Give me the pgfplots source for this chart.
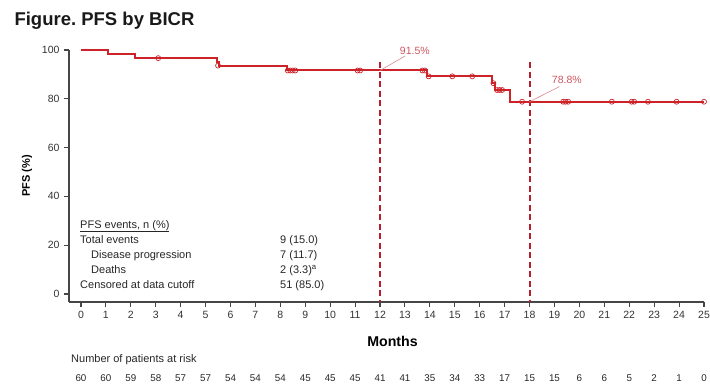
\documentclass[border=0pt]{standalone}
\usepackage{pgfplots}
\pgfplotsset{compat=1.18}
\usepackage{fontspec}
\setmainfont{Liberation Sans}
\definecolor{kmred}{RGB}{205,35,40}
\definecolor{dashred}{RGB}{185,30,45}
\definecolor{lblred}{RGB}{205,85,95}
\definecolor{axgray}{RGB}{70,70,70}
\begin{document}
\begin{tikzpicture}
\path[use as bounding box] (0pt,0pt) rectangle (710pt,-386pt);
\node[anchor=base west,font=\bfseries\fontsize{18.5}{20}\selectfont,text=black!90] at (11pt,-25pt) {Figure.\ PFS by BICR};
\begin{axis}[
  at={(69pt,-302pt)}, anchor=south west,
  scale only axis, width=635pt, height=252pt,
  xmin=-0.48, xmax=25, ymin=-3.3, ymax=100,
  axis lines=left, axis line style={-, axgray, line width=1.6pt},
  xtick={0,...,25}, ytick={0,20,...,100},
  tick style={axgray, line width=1.1pt}, tick align=outside,
  major tick length=5pt,
  tick label style={font=\fontsize{10.5}{12}\selectfont, text=black!80},
  /pgf/number format/assume math mode=true,
  xticklabel style={yshift=-1pt},
  yticklabel style={xshift=-1pt},
  clip=false,
  xlabel={\textbf{Months}}, xlabel style={font=\fontsize{14.2}{16}\selectfont, yshift=-10pt, xshift=6pt},
  ylabel={\textbf{PFS (\%)}}, ylabel style={font=\fontsize{11}{13}\selectfont, yshift=3pt},
]
% dashed landmark lines
\addplot[dashred, line width=2pt, dash pattern=on 6pt off 3.5pt] coordinates {(12,95) (12,-3.3)};
\addplot[dashred, line width=2pt, dash pattern=on 6pt off 3.5pt] coordinates {(18,95) (18,-3.3)};
% KM curve
\addplot[const plot, kmred, line width=2pt] coordinates {
(0,100) (1.08,98.33) (2.17,96.67) (5.45,95.0) (5.52,93.33) (8.27,91.6)
(13.9,89.2) (16.5,86.4) (16.6,83.6) (17.2,78.8) (25.0,78.8)};
% censored
\addplot[only marks, mark=o, mark size=2.5pt, kmred, line width=0.7pt] coordinates {
(3.1,96.67) (5.5,93.6) (8.3,91.6) (8.4,91.6) (8.5,91.6) (8.6,91.6)
(11.1,91.6) (11.2,91.6) (13.7,91.6) (13.8,91.6) (13.95,89.2)
(14.9,89.2) (15.7,89.2) (16.55,86.4) (16.7,83.6) (16.8,83.6) (16.9,83.6)
(17.7,78.8) (19.35,78.8) (19.45,78.8) (19.55,78.8) (21.3,78.8)
(22.1,78.8) (22.2,78.8) (22.75,78.8) (23.9,78.8) (25.0,78.8)};
% annotations
\draw[lblred!70, line width=0.6pt] (axis cs:12,91.6) -- (axis cs:13,97.5);
\node[anchor=south west, text=lblred, font=\fontsize{10.5}{12}\selectfont, inner sep=1pt] at (axis cs:12.75,97.8) {91.5\%};
\draw[lblred!70, line width=0.6pt] (axis cs:18,78.8) -- (axis cs:19.2,85.0);
\node[anchor=south west, text=lblred, font=\fontsize{10.5}{12}\selectfont, inner sep=1pt] at (axis cs:18.85,85.6) {78.8\%};
\end{axis}
% events table
\begin{scope}[every node/.style={anchor=base west, font=\fontsize{11}{12}\selectfont, text=black!85, inner sep=0pt}]
\node at (80pt,-228pt) {\underline{PFS events, n (\%)}};
\node at (80pt,-243pt) {Total events};
\node at (91pt,-258pt) {Disease progression};
\node at (91pt,-273pt) {Deaths};
\node at (80pt,-288pt) {Censored at data cutoff};
\node at (280pt,-243pt) {9 (15.0)};
\node at (280pt,-258pt) {7 (11.7)};
\node at (280pt,-273pt) {2 (3.3)\textsuperscript{a}};
\node at (280pt,-288pt) {51 (85.0)};
\end{scope}
% number at risk
\node[anchor=base west, font=\fontsize{11}{12}\selectfont, text=black!85, inner sep=0pt] at (71pt,-362pt) {Number of patients at risk};
\foreach \v [count=\i from 0] in {60,60,59,58,57,57,54,54,54,45,45,45,41,41,35,34,33,17,15,15,6,6,5,2,1,0}{
  \pgfmathsetmacro{\xx}{81+\i*24.92}
  \node[anchor=base, font=\fontsize{9.8}{11}\selectfont, text=black!85, inner sep=0pt] at (\xx pt,-381pt) {\v};
}
\end{tikzpicture}
\end{document}
